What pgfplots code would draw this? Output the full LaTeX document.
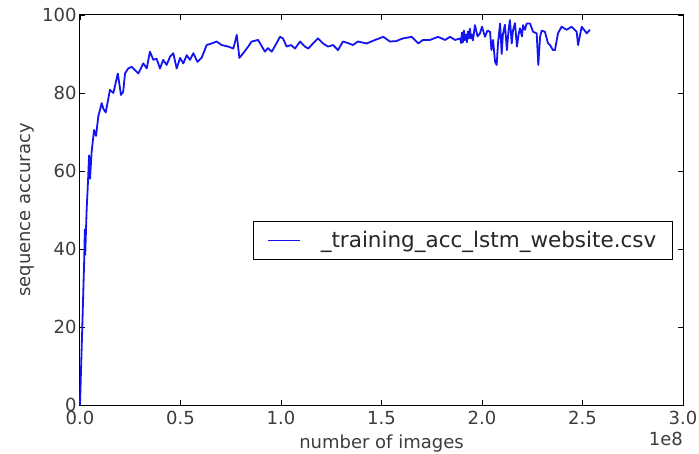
\documentclass[border=0pt]{standalone}
\usepackage{fontspec}
\setmainfont{DejaVu Sans}
\usepackage{pgfplots}
\pgfplotsset{compat=1.18}
\definecolor{txt}{RGB}{60,60,60}
\begin{document}
\begin{tikzpicture}
\begin{axis}[
  name=ax,
  scale only axis,
  width=603pt, height=390pt,
  xmin=0, xmax=3, ymin=0, ymax=100,
  xtick={0,0.5,...,3.0},
  ytick={0,20,...,100},
  xticklabel style={yshift=-3pt, /pgf/number format/.cd,fixed,fixed zerofill,precision=1},
  /pgf/number format/assume math mode=true,
  tick label style={font=\fontsize{18}{20}\selectfont, text=txt},
  xlabel={number of images},
  ylabel={sequence accuracy},
  label style={font=\fontsize{18}{20}\selectfont, text=txt},
  xlabel style={at={(axis description cs:0.5,0)}, anchor=north, yshift=-26pt},
  ylabel style={at={(axis description cs:0,0.5)}, anchor=south, yshift=42pt},
  tick align=inside,
  major tick length=5pt,
  tick style={black, line width=0.6pt},
  axis line style={black, line width=1pt},
  legend style={at={(0.983,0.423)}, anchor=east, draw=black, line width=0.8pt,
    font=\fontsize{21.5}{23}\selectfont, text=black!85, inner xsep=14pt, inner ysep=8pt,
    column sep=18pt},
  legend cell align=left,
  legend image code/.code={\draw[#1, line width=1pt] (0pt,0pt) -- (32pt,0pt);},
  clip=false,
]
\addplot[color={rgb,255:red,20;green,20;blue,240}, line width=1.8pt, line join=round] coordinates {
(0.000,0) (0.0114,20) (0.0214,38) (0.024,45) (0.026,38.5) (0.033,50) (0.040,57.5)
(0.045,64) (0.050,58) (0.058,65) (0.070,70.5) (0.080,69) (0.091,74) (0.108,77.4)
(0.116,76) (0.128,75) (0.149,80.8) (0.166,80) (0.188,85) (0.204,79.5) (0.215,80.3)
(0.224,85) (0.240,86.3) (0.257,86.7) (0.290,85) (0.315,87.6) (0.332,86.3) (0.348,90.6)
(0.365,88.5) (0.381,88.8) (0.398,86.3) (0.414,88.5) (0.431,87.2) (0.448,89.3)
(0.464,90.2) (0.481,86.3) (0.498,89) (0.514,87.6) (0.531,89.7) (0.547,88.5)
(0.564,90.2) (0.584,88) (0.605,89) (0.630,92.3) (0.655,92.7) (0.680,93.2) (0.705,92.3)
(0.738,91.9) (0.763,91.4) (0.780,94.9) (0.793,89) (0.812,90.2) (0.837,91.9)
(0.854,93.2) (0.886,93.6) (0.920,90.6) (0.935,91.5) (0.954,90.6) (0.975,92.5)
(0.995,94.4) (1.010,94) (1.028,91.9) (1.050,92.3) (1.070,91.4) (1.095,93.2)
(1.119,91.9) (1.136,91.4) (1.159,92.7) (1.184,94) (1.209,92.7) (1.234,91.9)
(1.259,92.3) (1.284,91) (1.308,93.2) (1.333,92.8) (1.358,92.3) (1.383,93.2)
(1.426,92.7) (1.468,93.6) (1.509,94.4) (1.542,93.2) (1.572,93.3) (1.607,94)
(1.650,94.4) (1.683,92.7) (1.706,93.6) (1.741,93.6) (1.781,94.4) (1.816,93.6)
(1.841,94.4) (1.866,93.6) (1.891,94) (1.896,92.8) (1.900,95.5) (1.905,93)
(1.910,96) (1.915,93.5) (1.920,95) (1.925,93) (1.930,95.8) (1.935,94) (1.940,96.5)
(1.945,94) (1.950,95) (1.955,93.5) (1.965,97.4) (1.978,94.5) (1.990,95.3) (2.000,97)
(2.015,94.4) (2.027,96) (2.040,95.7) (2.047,91) (2.055,93.6) (2.065,88) (2.073,87.2)
(2.080,93) (2.090,97.8) (2.098,90) (2.104,95) (2.114,97.5) (2.124,91) (2.132,96)
(2.139,98.7) (2.148,92.7) (2.154,96) (2.164,97.9) (2.174,91.9) (2.182,95) (2.189,96.6)
(2.199,94.5) (2.204,97.4) (2.214,96.2) (2.222,97.8) (2.239,97.8) (2.254,95.7)
(2.272,95.3) (2.280,87.2) (2.289,94.4) (2.297,96) (2.313,95.7) (2.328,92.8)
(2.338,92.3) (2.353,91) (2.363,91) (2.378,95.3) (2.396,97) (2.421,96.2) (2.446,97)
(2.471,95.7) (2.478,92.3) (2.496,97) (2.521,95.3) (2.537,96.2)
};
\addlegendentry{\_training\_acc\_lstm\_website.csv}
\node[anchor=north east, font=\fontsize{18}{20}\selectfont, text=txt, inner sep=0pt]
  at (rel axis cs:1,0) [yshift=-27pt] {1e8};
\end{axis}
\pgfresetboundingbox
\path[use as bounding box] ([shift={(-80pt,-48pt)}]ax.south west) rectangle ([shift={(16pt,15pt)}]ax.north east);
\end{tikzpicture}
\end{document}
